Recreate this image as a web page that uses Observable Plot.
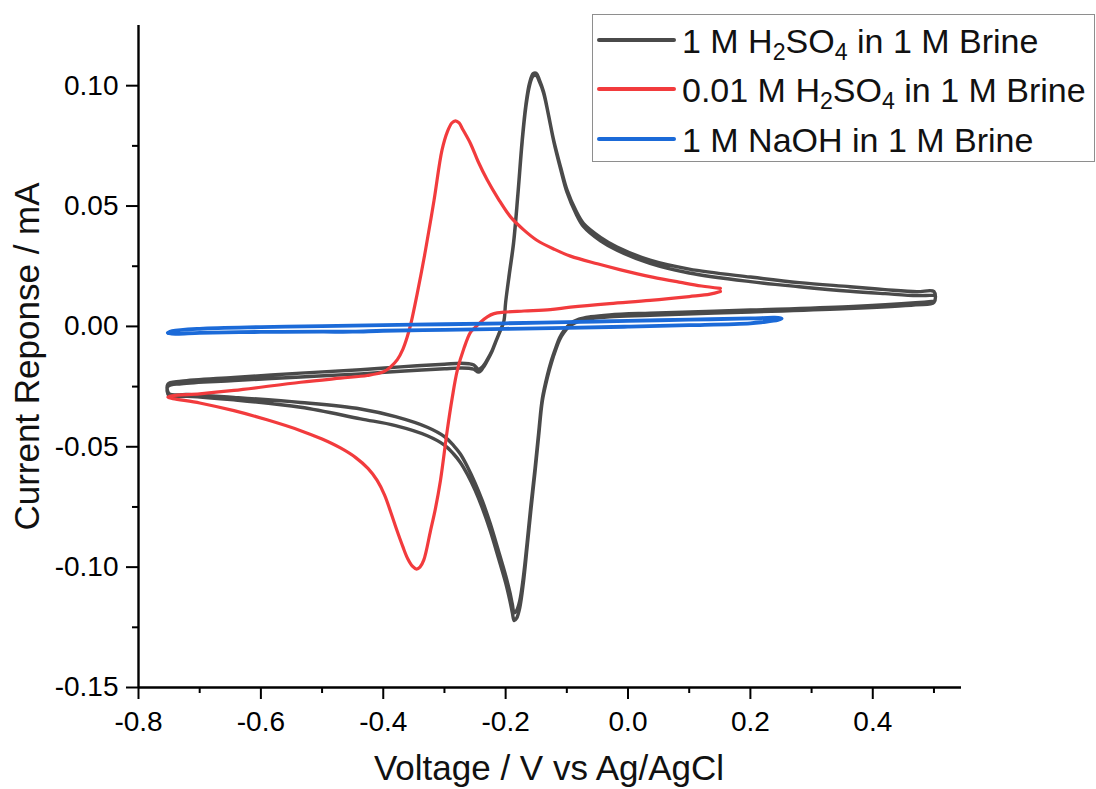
<!DOCTYPE html>
<html>
<head>
<meta charset="utf-8">
<script src="https://cdn.jsdelivr.net/npm/d3@7"></script>
<script src="https://cdn.jsdelivr.net/npm/@observablehq/plot@0.6"></script>
<style>
  html, body { margin: 0; padding: 0; background: #fff; }
  #wrap { position: relative; width: 1096px; height: 789px; font-family: "Liberation Sans", Arial, sans-serif; }
  #wrap svg { display: block; }
  .legend { position: absolute; left: 592px; top: 14px; width: 503px; height: 148px;
            border: 1px solid #8e8e8e; background: #fff; box-sizing: border-box; }
  .legend .swatch { position: absolute; left: 4px; width: 79px; height: 4px; border-radius: 2px; }
  .legend .label { position: absolute; left: 89px; font-size: 34px; line-height: 32px; white-space: nowrap; color: #111; }
  .legend sub { font-size: 0.68em; vertical-align: baseline; position: relative; top: 0.3em; }
</style>
</head>
<body>
<div id="wrap"></div>
<script>
// Cyclic voltammetry scans, [potential (V vs Ag/AgCl), current (mA)], in scan order.

// 1 M H2SO4 in 1 M Brine — first cycle (starts at the +0.5 V vertex, sweeping negative)
const h2so4Cycle1 = [
  [0.500, 0.0105], [0.470, 0.0098], [0.360, 0.0082], [0.200, 0.0068], [0.036, 0.0055],
  [-0.030, 0.0048], [-0.061, 0.0040], [-0.080, 0.0030], [-0.094, 0.0012], [-0.105, -0.0018],
  [-0.112, -0.0048], [-0.118, -0.0088], [-0.125, -0.0140], [-0.132, -0.0205], [-0.140, -0.0300],
  [-0.146, -0.0440], [-0.152, -0.0590], [-0.159, -0.0750], [-0.165, -0.0900], [-0.171, -0.1040],
  [-0.177, -0.1140], [-0.182, -0.1180], [-0.186, -0.1190], [-0.189, -0.1155], [-0.193, -0.1105],
  [-0.200, -0.1035], [-0.212, -0.0930], [-0.225, -0.0820], [-0.238, -0.0725], [-0.250, -0.0650],
  [-0.262, -0.0585], [-0.274, -0.0530], [-0.285, -0.0495], [-0.300, -0.0458], [-0.328, -0.0419],
  [-0.380, -0.0375], [-0.437, -0.0343], [-0.535, -0.0316], [-0.644, -0.0295], [-0.720, -0.0283],
  [-0.750, -0.0280], [-0.752, -0.0240], [-0.730, -0.0228], [-0.644, -0.0212], [-0.535, -0.0194],
  [-0.437, -0.0180], [-0.372, -0.0168], [-0.300, -0.0157], [-0.274, -0.0153], [-0.260, -0.0155],
  [-0.252, -0.0160], [-0.244, -0.0178], [-0.237, -0.0165], [-0.230, -0.0138], [-0.222, -0.0100],
  [-0.2166, -0.0065], [-0.2085, -0.0015], [-0.203, 0.0020], [-0.200, 0.0100], [-0.194, 0.0220],
  [-0.187, 0.0350], [-0.180, 0.0550], [-0.173, 0.0774], [-0.167, 0.0920], [-0.161, 0.1010],
  [-0.155, 0.1050], [-0.150, 0.1052], [-0.145, 0.1025], [-0.138, 0.0975], [-0.130, 0.0880],
  [-0.1215, 0.0774], [-0.110, 0.0660], [-0.0996, 0.0566], [-0.085, 0.0480], [-0.0725, 0.0427],
  [-0.045, 0.0370], [-0.018, 0.0330], [0.036, 0.0275], [0.100, 0.0238], [0.200, 0.0205],
  [0.280, 0.0182], [0.363, 0.0165], [0.420, 0.0153], [0.472, 0.0144], [0.500, 0.0145]
];

// 1 M H2SO4 in 1 M Brine — second cycle
const h2so4Cycle2 = [
  [0.500, 0.0100], [0.470, 0.0090], [0.360, 0.0074], [0.200, 0.0060], [0.036, 0.0046],
  [-0.030, 0.0040], [-0.061, 0.0032], [-0.080, 0.0022], [-0.094, 0.0004], [-0.105, -0.0026],
  [-0.112, -0.0056], [-0.118, -0.0096], [-0.125, -0.0150], [-0.132, -0.0215], [-0.140, -0.0310],
  [-0.146, -0.0455], [-0.152, -0.0605], [-0.159, -0.0770], [-0.165, -0.0920], [-0.171, -0.1065],
  [-0.177, -0.1170], [-0.182, -0.1212], [-0.186, -0.1222], [-0.189, -0.1190], [-0.193, -0.1140],
  [-0.200, -0.1065], [-0.212, -0.0960], [-0.225, -0.0850], [-0.238, -0.0755], [-0.250, -0.0680],
  [-0.262, -0.0617], [-0.274, -0.0565], [-0.285, -0.0530], [-0.300, -0.0493], [-0.328, -0.0454],
  [-0.380, -0.0412], [-0.437, -0.0384], [-0.535, -0.0336], [-0.644, -0.0305], [-0.720, -0.0290],
  [-0.750, -0.0288], [-0.752, -0.0250], [-0.730, -0.0238], [-0.644, -0.0225], [-0.535, -0.0210],
  [-0.437, -0.0197], [-0.372, -0.0186], [-0.300, -0.0176], [-0.274, -0.0173], [-0.260, -0.0174],
  [-0.252, -0.0178], [-0.244, -0.0190], [-0.237, -0.0172], [-0.230, -0.0142], [-0.222, -0.0102],
  [-0.2166, -0.0067], [-0.2085, -0.0017], [-0.203, 0.0020], [-0.200, 0.0100], [-0.194, 0.0215],
  [-0.187, 0.0345], [-0.180, 0.0545], [-0.173, 0.0765], [-0.167, 0.0910], [-0.161, 0.1000],
  [-0.155, 0.1040], [-0.150, 0.1042], [-0.145, 0.1018], [-0.138, 0.0970], [-0.130, 0.0878],
  [-0.1215, 0.0770], [-0.110, 0.0652], [-0.0996, 0.0556], [-0.085, 0.0468], [-0.0725, 0.0414],
  [-0.045, 0.0355], [-0.018, 0.0316], [0.036, 0.0262], [0.100, 0.0222], [0.200, 0.0186],
  [0.280, 0.0165], [0.363, 0.0146], [0.420, 0.0136], [0.472, 0.0128], [0.500, 0.0130]
];

// 0.01 M H2SO4 in 1 M Brine (starts at the +0.15 V vertex, sweeping negative)
const dilutedScan = [
  [0.151, 0.0145], [0.134, 0.0134], [0.100, 0.0124], [0.036, 0.0108], [-0.030, 0.0095],
  [-0.094, 0.0080], [-0.127, 0.0070], [-0.170, 0.0064], [-0.203, 0.0059], [-0.219, 0.0053],
  [-0.230, 0.0040], [-0.241, 0.0018], [-0.250, -0.0005], [-0.2575, -0.0025], [-0.268, -0.0090],
  [-0.279, -0.0183], [-0.2875, -0.0300], [-0.2955, -0.0433], [-0.3065, -0.0640], [-0.315, -0.0760],
  [-0.3228, -0.0849], [-0.3337, -0.0970], [-0.340, -0.1000], [-0.3456, -0.1008], [-0.352, -0.0997],
  [-0.360, -0.0965], [-0.368, -0.0915], [-0.378, -0.0845], [-0.388, -0.0770], [-0.398, -0.0700],
  [-0.410, -0.0640], [-0.425, -0.0590], [-0.445, -0.0545], [-0.470, -0.0505], [-0.500, -0.0468],
  [-0.535, -0.0433], [-0.590, -0.0388], [-0.644, -0.0350], [-0.700, -0.0318], [-0.752, -0.0294],
  [-0.745, -0.0288], [-0.700, -0.0280], [-0.644, -0.0266], [-0.535, -0.0232], [-0.470, -0.0215],
  [-0.426, -0.0204], [-0.399, -0.0188], [-0.388, -0.0168], [-0.377, -0.0138], [-0.368, -0.0095],
  [-0.361, -0.0045], [-0.355, 0.0010], [-0.3445, 0.0136], [-0.331, 0.0316], [-0.317, 0.0524],
  [-0.304, 0.0732], [-0.295, 0.0810], [-0.288, 0.0845], [-0.282, 0.0854], [-0.276, 0.0845],
  [-0.270, 0.0818], [-0.2575, 0.0760], [-0.245, 0.0685], [-0.230, 0.0608], [-0.212, 0.0530],
  [-0.192, 0.0455], [-0.170, 0.0400], [-0.149, 0.0358], [-0.120, 0.0320], [-0.094, 0.0292],
  [-0.050, 0.0260], [-0.012, 0.0235], [0.040, 0.0205], [0.086, 0.0183], [0.120, 0.0168],
  [0.151, 0.0158]
];

// 1 M NaOH in 1 M Brine (starts at the -0.75 V vertex, sweeping positive)
const naohScan = [
  [-0.752, -0.0027], [-0.745, -0.0020], [-0.700, -0.0010], [-0.600, -0.0003], [-0.500, 0.0001],
  [-0.400, 0.0005], [-0.300, 0.0009], [-0.200, 0.0013], [-0.100, 0.0018], [0.000, 0.0023],
  [0.100, 0.0028], [0.200, 0.0033], [0.240, 0.0036], [0.251, 0.0033], [0.245, 0.0027],
  [0.220, 0.0018], [0.200, 0.0013], [0.100, 0.0005], [0.000, -0.0001], [-0.100, -0.0006],
  [-0.200, -0.0010], [-0.300, -0.0014], [-0.400, -0.0018], [-0.450, -0.0022], [-0.500, -0.0022],
  [-0.600, -0.0023], [-0.700, -0.0027], [-0.740, -0.0031], [-0.752, -0.0027]
];

// Series names and colours
const seriesNames = [
  "1 M H<sub>2</sub>SO<sub>4</sub> in 1 M Brine",
  "0.01 M H<sub>2</sub>SO<sub>4</sub> in 1 M Brine",
  "1 M NaOH in 1 M Brine"
];
const seriesColors = ["#4a4a4a", "#f23b3d", "#1b6ad8"];

// Axis ticks
const xMajorTicks = [-0.8, -0.6, -0.4, -0.2, 0.0, 0.2, 0.4];
const xMinorTicks = [-0.7, -0.5, -0.3, -0.1, 0.1, 0.3, 0.5];
const yMajorTicks = [-0.15, -0.10, -0.05, 0.00, 0.05, 0.10];
const yMinorTicks = [-0.125, -0.075, -0.025, 0.025, 0.075];

const xTitle = "Voltage / V vs Ag/AgCl";
const yTitle = "Current Reponse / mA";

const font = "'Liberation Sans', Arial, sans-serif";
const lineOpts = (color, w) => ({
  x: d => d[0], y: d => d[1], stroke: color, strokeWidth: w,
  curve: "catmull-rom", strokeLinejoin: "round", strokeLinecap: "round"
});

const chart = Plot.plot({
  width: 1096,
  height: 789,
  marginLeft: 138,
  marginRight: 135,
  marginTop: 25,
  marginBottom: 102,
  x: { domain: [-0.8, 0.545] },
  y: { domain: [-0.15, 0.125] },
  style: { fontFamily: font, background: "#fff", color: "#000" },
  marks: [
    Plot.line([...h2so4Cycle1, ...h2so4Cycle2], lineOpts(seriesColors[0], 3.4)),
    Plot.line(dilutedScan, lineOpts(seriesColors[1], 3.2)),
    Plot.line(naohScan, lineOpts(seriesColors[2], 3.8)),
    // axes
    Plot.ruleX([-0.8], { stroke: "#000", strokeWidth: 2.4 }),
    Plot.ruleY([-0.15], { stroke: "#000", strokeWidth: 2.4 }),
    Plot.axisX({ ticks: xMajorTicks, tickSize: 12, tickPadding: 12, strokeWidth: 2,
                 tickFormat: d => d.toFixed(1), fontSize: 28, label: null }),
    Plot.axisX({ ticks: xMinorTicks, tickSize: 6, strokeWidth: 2,
                 tickFormat: () => "", label: null }),
    Plot.axisY({ ticks: yMajorTicks, tickSize: 12, tickPadding: 8, strokeWidth: 2,
                 tickFormat: d => d.toFixed(2), fontSize: 28, label: null }),
    Plot.axisY({ ticks: yMinorTicks, tickSize: 6, strokeWidth: 2,
                 tickFormat: () => "", label: null }),
    // axis titles
    Plot.text([xTitle], { text: d => d, frameAnchor: "bottom", textAnchor: "middle",
                          lineAnchor: "middle", dx: -1, dy: 81, fontSize: 35, fill: "#111" }),
    Plot.text([yTitle], { text: d => d, frameAnchor: "left", textAnchor: "middle",
                          lineAnchor: "middle", rotate: -90, dx: -111, fontSize: 35, fill: "#111" })
  ]
});

const wrap = document.getElementById("wrap");
wrap.appendChild(chart);

// Legend box in the upper right corner
const legend = document.createElement("div");
legend.className = "legend";
const rowCentres = [25, 74.3, 123.7];
seriesNames.forEach((name, i) => {
  const sw = document.createElement("div");
  sw.className = "swatch";
  sw.style.top = (rowCentres[i] - 2) + "px";
  sw.style.background = seriesColors[i];
  legend.appendChild(sw);
  const lab = document.createElement("div");
  lab.className = "label";
  lab.style.top = (rowCentres[i] - 15) + "px";
  lab.innerHTML = name;
  legend.appendChild(lab);
});
wrap.appendChild(legend);
</script>
</body>
</html>
